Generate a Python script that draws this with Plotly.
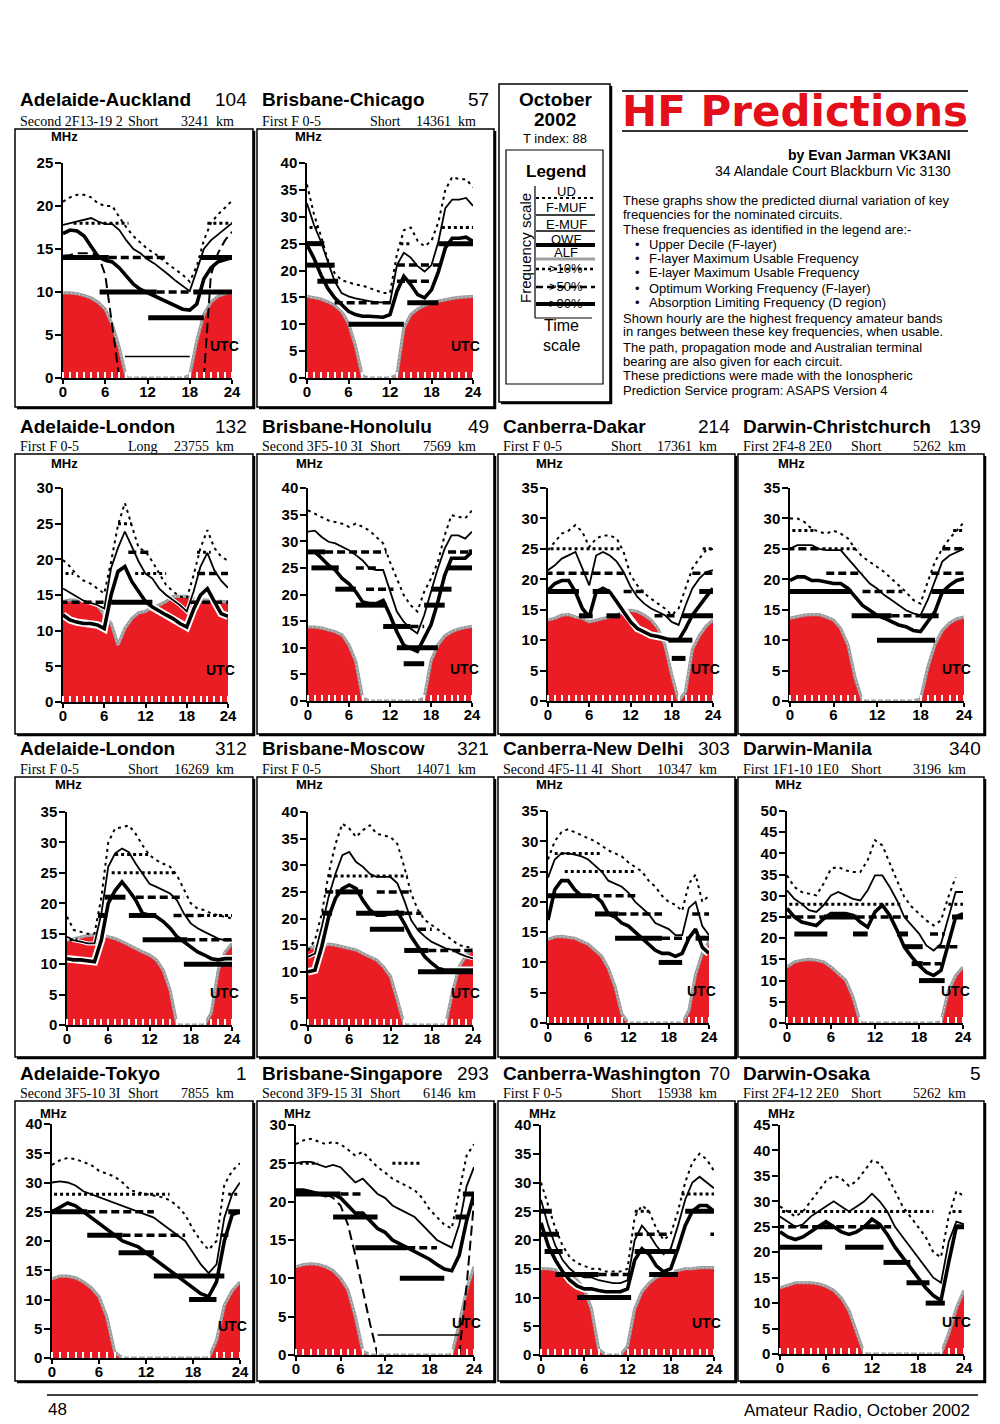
import plotly.graph_objects as go

HOURS = list(range(25))

# ---------------- data ----------------
# Adelaide-Auckland
A_UD = [20.5,21.0,21.3,21.3,21.0, 20.3,20.0,20.0,18.7,17.5, 16.5,15.7,15.0,14.5,13.8, 13.2,12.6,12.0,11.2,13.0, 16.0,18.0,19.0,19.8,20.6]
A_FMUF = [17.8,18.0,18.2,18.4,18.6, 18.2,17.9,17.9,17.2,16.0, 15.0,14.5,13.8,13.3,12.7, 12.0,11.3,10.7,10.1,12.5, 15.0,16.0,16.7,17.3,18.0]
A_OWF = [16.8,17.2,17.1,16.5,15.3, 14.1,13.7,13.5,12.8,11.8, 10.9,10.3,9.9,9.5,9.2, 8.8,8.4,8.0,7.9,8.6, 11.5,12.8,13.5,13.8,14.0]
A_EMUF = [14.2,14.3,14.5,14.5,14.5, 14.3,12.0,6.0,0.0,None, None,None,None,None,None, None,None,None,None,None, 0.0,12.0,14.5,16.0,17.0]
A_ALF = [9.9,9.9,9.8,9.6,9.3, 8.8,8.0,6.2,3.5,0, 0,0,0,0,0, 0,0,0,0.3,4.3, 7.4,8.8,9.5,9.8,9.9]
A_BF = [14, 14, 14, 18, 18, 10, 10, 10, 7, 2.5]
A_BS = [-0.5, 6.5, 19.5, 1.5, 20.5, 5.2, 13.3, 18.5, 12.1, 8.8]
A_BE = [6.5, 14.7, 24.5, 9.3, 24.5, 13.3, 18.0, 24.3, 20.0, 18.0]
A_BK = [90, 50, 90, 10, 10, 90, 50, 90, 90, 0]

# Brisbane-Chicago
B_UD = [36.0,30.5,26.5,22.0,19.5, 18.2,17.8,17.4,17.2,16.8, 16.3,15.8,15.8,23.0,27.5, 28.0,25.5,24.5,25.5,29.0, 35.0,37.4,37.0,37.0,35.5]
B_FMUF = [32.5,28.5,25.4,21.7,18.0, 15.8,15.2,14.8,14.5,14.3, 14.1,14.0,14.0,21.0,23.3, 22.4,20.8,19.8,21.0,25.4, 31.6,33.2,33.2,33.5,32.0]
B_OWF = [24.8,22.3,19.2,16.7,14.9, 13.6,12.4,11.8,11.5,11.5, 11.4,11.3,11.8,16.1,18.9, 17.4,15.5,14.9,16.4,19.8, 24.2,26.0,26.0,26.2,25.4]
B_ALF = [15.2,15.0,14.7,14.2,13.5, 12.4,10.2,6.0,0.3,0, 0,0,0,0.5,9.3, 11.8,12.8,13.5,14.0,14.3, 14.6,14.8,15.0,15.1,15.2]
B_BF = [28, 25, 21, 18, 14, 10, 25, 21, 18, 14, 28, 25]
B_BS = [-0.5, -0.5, 0, 1.5, 4, 6, 13.5, 13, 13, 14.5, 19.5, 19]
B_BE = [1.5, 2.5, 4, 4.5, 12.5, 14, 15, 19.5, 18, 19, 24.5, 24.5]
B_BK = [10, 90, 90, 90, 50, 90, 10, 50, 50, 90, 10, 90]

# Adelaide-London (long path)
C_UD = [19.9,19.0,17.8,17.0,16.6, 15.9,15.2,19.7,24.8,27.9, 24.8,21.6,21.1,19.7,18.0, 16.4,15.5,14.8,14.5,17.8, 21.6,24.1,21.6,20.4,19.8]
C_FMUF = [15.9,15.3,14.7,14.2,13.9, 13.6,13.1,18.8,21.6,23.9, 21.8,19.7,18.0,17.3,15.9, 15.0,14.3,13.6,12.7,15.5, 19.0,20.9,18.5,17.0,16.0]
C_OWF = [12.2,11.5,11.2,11.0,11.0, 10.8,10.3,15.0,18.3,19.0, 16.9,15.5,14.1,13.3,12.7, 12.2,11.7,11.0,10.5,13.0, 15.0,15.9,14.1,12.4,12.0]
C_ALF = [14.1,14.3,14.3,14.2,14.0, 13.6,12.2,11.0,8.0,10.3, 11.7,12.5,12.7,13.3,13.6, 14.1,14.8,14.8,14.8,14.5, 14.3,14.3,14.1,14.1,14.0]
C_BF = [14, 14, 14, 18, 18, 18, 21, 21, 25]
C_BS = [-0.5, 7, 18.5, -0.5, 10.5, 19.5, 9.5, 19.5, 8]
C_BE = [6.5, 13, 24.5, 1.5, 15, 24.5, 13, 21.5, 10]
C_BK = [50, 90, 50, 10, 10, 50, 50, 10, 10]

# Brisbane-Honolulu
D_UD = [35.8,35.2,34.6,33.9,33.6, 33.3,32.7,33.3,32.7,32.0, 30.8,29.6,26.1,23.0,19.9, 18.0,16.8,20.5,23.0,26.1, 31.1,34.9,34.6,34.3,35.8]
D_FMUF = [31.8,32.0,30.8,29.9,29.6, 28.9,28.3,27.4,26.4,24.9, 24.6,24.6,20.5,16.8,14.9, 13.6,12.7,16.1,20.5,24.9, 28.6,31.1,31.1,30.5,31.8]
D_OWF = [28.0,28.0,26.8,25.5,24.6, 23.0,22.0,20.5,18.6,18.3, 18.3,18.9,16.1,13.0,10.5, 9.9,9.3,11.8,14.3,18.6, 23.6,26.8,26.8,26.8,28.0]
D_ALF = [13.9,13.9,13.7,13.3,13.0, 12.4,10.5,7.4,0.5,0, 0,0,0,0,0, 0,0,0.5,7.5,10.5, 12.2,13.0,13.5,13.8,14.0]
D_BF = [28, 28, 28, 28, 25, 25, 25, 21, 21, 21, 18, 18, 14, 14, 10, 7]
D_BS = [-0.5, 2.5, 20.5, 23.5, 0.5, 7, 20.5, 4, 8.5, 18, 7, 17, 11, 15, 13, 14]
D_BE = [2.5, 11.5, 23.5, 24.5, 4.5, 10.5, 24, 7, 12.5, 21, 11.5, 20, 15, 17, 19, 17]
D_BK = [90, 50, 50, 90, 90, 50, 90, 90, 50, 90, 90, 90, 90, 50, 90, 90]

# Canberra-Dakar
E_UD = [24.8,26.1,27.5,28.0,28.9, 27.8,25.3,26.7,27.2,27.2, 26.7,24.5,20.7,19.0,17.7, 16.8,16.0,15.2,14.1,15.2, 18.5,21.8,23.4,24.8,25.0]
E_FMUF = [21.5,22.3,23.4,23.9,24.5, 21.8,19.0,23.9,24.5,23.9, 22.9,21.2,18.8,17.1,16.0, 15.2,14.7,14.1,13.0,12.5, 15.7,18.5,20.1,21.2,21.5]
E_OWF = [18.2,19.3,19.8,19.8,17.9, 15.2,13.8,17.9,18.5,17.9, 16.3,14.7,13.0,11.9,11.4, 10.8,10.6,10.3,10.0,10.0, 11.9,14.1,15.7,17.1,18.5]
E_ALF = [13.3,13.6,14.1,14.2,13.8, 13.6,13.0,13.3,13.5,13.8, 14.1,14.7,14.9,14.7,14.1, 13.3,11.9,9.2,4.3,0, 1.5,8.5,10.7,12.3,13.3]
E_BF = [25, 25, 21, 21, 18, 18, 18, 18, 14, 14, 14, 14, 10, 7]
E_BS = [-0.5, 22.5, -0.5, 21, -0.5, 6.5, 11, 22, 4.5, 8.5, 15.5, 19.5, 17.5, 18]
E_BE = [10.5, 24.5, 11, 24.5, 4.5, 9, 14.5, 24.5, 6.5, 10.5, 19, 24.5, 21, 20]
E_BK = [10, 10, 50, 50, 90, 90, 50, 90, 90, 90, 50, 90, 90, 90]

# Darwin-Christchurch
F_UD = [30.0,30.0,29.4,28.3,27.8, 27.5,28.0,27.5,26.7,25.0, 23.7,22.9,22.0,21.2,20.1, 19.0,17.9,16.6,16.0,19.6, 22.9,25.0,26.7,28.0,29.4]
F_FMUF = [25.0,25.6,25.6,25.6,25.0, 24.8,24.8,24.8,23.4,22.0, 20.7,19.3,18.5,17.4,16.6, 15.7,14.9,14.4,14.1,16.6, 19.6,22.9,23.9,24.5,25.0]
F_OWF = [19.8,20.4,20.4,19.8,19.8, 19.6,19.3,19.3,18.5,17.1, 15.7,14.9,14.1,13.6,13.0, 12.5,12.2,11.6,11.4,13.0, 14.7,17.9,19.0,19.8,20.1]
F_ALF = [13.6,13.9,14.1,14.2,14.2, 13.8,13.3,11.9,9.2,3.7, 0,0,0,0,0, 0,0,0,0.3,5.5, 9.3,11.6,12.8,13.5,13.8]
F_BF = [28, 28, 25, 25, 25, 21, 21, 18, 18, 18, 14, 14, 14, 10]
F_BS = [-0.5, 22.5, -0.5, 4.5, 21, 5, 19.5, -0.5, 10, 19.5, 8.5, 14, 18, 12]
F_BE = [3.5, 24.5, 4.5, 9.5, 24.5, 10, 24.5, 8.5, 15.5, 24.5, 14, 18, 20.5, 20]
F_BK = [10, 10, 50, 10, 50, 50, 50, 90, 50, 90, 90, 50, 90, 90]

# Adelaide-London (short path)
G_UD = [17.8,15.6,15.3,15.0,15.0, 21.0,30.0,32.3,32.5,32.8, 31.4,29.5,27.9,27.1,26.5, 26.0,24.6,22.4,20.0,19.1, 18.9,18.3,18.0,17.8,17.5]
G_FMUF = [14.5,13.9,13.7,13.4,13.4, 18.3,26.0,28.2,29.0,28.4, 26.5,24.9,23.2,22.7,22.1, 21.6,20.5,18.3,16.7,15.9, 15.3,14.8,14.2,13.9,13.9]
G_OWF = [10.9,10.7,10.7,10.5,10.4, 14.0,20.0,22.1,23.5,22.1, 20.5,18.3,18.0,17.8,17.0, 15.9,14.5,13.7,12.8,12.0, 11.5,10.9,10.7,10.9,10.9]
G_ALF = [13.9,14.2,14.5,14.7,14.8, 14.8,14.5,14.2,13.7,13.1, 12.6,12.0,11.5,10.7,9.0, 5.7,0,0,0,0, 0,2.0,9.0,12.0,13.4]
G_BF = [14, 28, 25, 21, 21, 18, 18, 18, 18, 14, 14, 10]
G_BS = [-0.5, 7, 6.5, 5.5, 10, 4.5, 9, 15.5, 19.5, 11, 17.5, 17]
G_BE = [1.5, 12, 16, 8.5, 17, 5.5, 13, 19.5, 24, 17.5, 24.5, 24.5]
G_BK = [10, 10, 10, 90, 50, 90, 90, 50, 10, 90, 50, 90]

# Brisbane-Moscow
H_UD = [14.0,15.9,20.9,28.4,34.0, 37.8,36.9,35.3,36.6,37.5, 35.9,35.6,35.3,34.0,29.7, 24.7,21.6,19.7,18.8,17.8, 16.9,15.9,15.0,14.7,14.4]
H_FMUF = [12.8,13.4,18.4,24.1,28.4, 31.9,32.5,30.6,29.7,28.4, 27.8,27.8,27.8,26.6,23.4, 19.7,17.8,16.6,15.6,15.0, 14.4,14.1,13.4,12.9,12.5]
H_OWF = [10.0,10.3,14.7,20.3,23.8, 25.6,26.3,25.6,23.4,21.6, 20.6,20.6,20.9,21.3,19.1, 16.6,14.7,12.8,11.6,10.6, 10.3,10.3,10.3,10.3,10.3]
H_ALF = [14.4,14.7,14.7,15.2,15.0, 14.7,14.4,14.1,13.4,12.8, 12.2,10.9,9.1,4.7,0, 0,0,0,0,0, 0,6.0,11.0,13.0,14.4]
H_BF = [28, 25, 25, 25, 21, 21, 21, 18, 18, 14, 14, 10]
H_BS = [3, 2.5, 4, 10, 2, 7, 14, 9, 16, 14, 17.5, 16]
H_BE = [14.5, 4, 8, 15, 3.5, 14, 16.5, 14, 18, 17.5, 24, 24.5]
H_BK = [10, 50, 90, 50, 90, 90, 50, 90, 50, 90, 50, 90]

# Canberra-New Delhi
I_UD = [27.0,30.0,31.5,32.0,31.5, 31.0,30.5,30.0,29.3,28.5, 28.0,27.5,26.5,25.8,25.0, 23.5,22.5,21.0,20.0,19.5, 18.5,23.0,24.5,20.0,21.0]
I_FMUF = [24.0,27.0,28.0,28.0,27.8, 27.5,27.0,26.0,25.0,23.5, 23.0,22.5,21.5,20.0,19.0, 18.0,16.5,16.0,15.5,14.5, 14.5,19.0,20.0,16.0,14.5]
I_OWF = [17.0,22.0,23.5,23.5,22.0, 21.0,21.0,21.0,20.0,18.0, 17.5,16.5,16.0,15.0,14.0, 13.0,12.0,11.5,11.5,11.0, 11.5,14.0,15.5,12.5,11.5]
I_ALF = [13.8,14.2,14.3,14.2,14.0, 13.5,13.0,12.0,11.0,9.0, 6.0,1.5,0,0,0, 0,0,0,0,0, 0,2.0,8.0,11.5,13.5]
I_BF = [28, 25, 21, 21, 18, 18, 14, 14, 10, 14, 18]
I_BS = [1, 2.5, -0.5, 6.5, 7, 10.5, 10, 17, 16.5, 22, 21.5]
I_BE = [8, 13, 6.5, 13, 10.5, 17, 17, 21, 20, 24.5, 24]
I_BK = [10, 10, 90, 50, 90, 50, 90, 50, 90, 90, 50]

# Darwin-Manila
J_UD = [34.8,32.1,30.9,30.5,30.1, 32.9,36.4,36.8,36.0,35.6, 35.6,38.4,43.1,41.9,37.6, 33.6,29.7,27.4,25.8,24.2, 23.0,24.2,29.7,34.4,None]
J_FMUF = [31.3,29.3,28.1,26.6,26.2, 27.8,30.1,30.9,30.1,29.3, 28.9,31.3,34.8,34.8,32.1, 28.9,25.0,23.0,21.1,18.3, 17.1,18.7,25.0,30.9,30.9]
J_OWF = [27.0,25.0,23.8,23.4,23.0, 24.6,25.8,25.8,25.8,25.4, 23.8,22.6,26.2,27.8,25.4, 21.9,17.9,15.6,13.6,12.0, 11.2,12.4,18.7,25.0,25.8]
J_ALF = [13.2,14.4,14.8,15.0,14.8, 14.4,13.2,11.6,10.1,6.1, 0,0,0,0,0, 0,0,0,0,0, 0,0.2,7.5,11.2,13.2]
J_BF = [28, 28, 25, 25, 25, 25, 21, 21, 21, 21, 18, 18, 14, 14, 10]
J_BS = [-0.5, 22, -0.5, 5, 9.5, 22.5, 1, 9, 15, 19.5, 16, 20.5, 17, 18.5, 18]
J_BE = [15.5, 24.5, 5, 9.5, 16.5, 24.5, 5.5, 11, 16.5, 21.5, 18.5, 23.5, 18.5, 21, 21.5]
J_BK = [10, 10, 50, 90, 50, 90, 90, 90, 90, 50, 90, 50, 90, 50, 90]

# Adelaide-Tokyo
K_UD = [33.0,33.8,34.2,34.0,33.5, 33.0,32.0,31.5,31.0,30.0, 28.7,28.3,28.0,27.8,27.5, 27.0,26.0,24.5,22.0,20.0, 18.5,20.0,29.6,32.0,33.3]
K_FMUF = [30.0,30.2,30.0,29.5,28.5, 28.0,27.5,27.0,26.5,26.0, 25.5,25.0,24.5,24.0,23.0, 22.0,21.0,20.0,18.0,16.0, 14.5,16.0,24.0,28.0,30.0]
K_OWF = [25.0,25.8,26.5,26.0,25.0, 24.0,23.0,22.0,21.0,20.0, 19.5,19.0,18.0,17.0,16.0, 15.0,14.0,13.0,12.0,11.0, 10.5,13.0,20.0,24.5,25.0]
K_ALF = [13.5,14.0,14.0,13.7,13.0, 12.0,10.5,7.0,1.0,0, 0,0,0,0,0, 0,0,0,0,0, 0,3.0,9.0,11.5,13.0]
K_BF = [28, 25, 25, 21, 21, 18, 14, 10, 25, 28, 21]
K_BS = [-0.5, -0.5, 4.5, 4.5, 9, 8.5, 13, 17.5, 22.5, 22.5, 21.5]
K_BE = [15, 4.5, 13, 9, 17, 13, 22, 21, 24.5, 24.5, 23]
K_BK = [10, 90, 50, 90, 50, 90, 90, 90, 90, 10, 50]

# Brisbane-Singapore
L_UD = [27.5,28.0,28.2,27.8,27.5, 27.8,27.5,26.8,26.0,26.5, 25.5,24.5,23.8,23.0,22.5, 22.0,21.5,20.5,19.0,18.0, 17.0,16.5,21.5,26.0,27.5]
L_FMUF = [25.0,25.2,25.2,24.8,24.5, 24.8,24.5,23.5,22.5,23.0, 22.0,21.0,20.5,19.5,19.0, 18.5,18.0,17.0,16.0,15.0, 14.5,14.0,17.0,22.0,24.5]
L_OWF = [21.5,21.5,21.3,21.0,20.8, 21.0,20.5,19.5,18.5,18.5, 17.5,16.5,16.0,15.0,14.5, 14.0,13.5,13.0,12.5,11.8, 11.2,11.0,13.0,17.5,21.0]
L_EMUF = [21.0,21.0,21.0,21.0,21.0, 20.5,19.5,17.0,13.0,8.5, 4.0,0.0,None,None,None, None,None,None,None,None, None,None,0.0,9.0,20.0]
L_ALF = [11.5,11.8,11.9,11.8,11.5, 11.0,10.0,8.5,5.0,0.5, 0,0,0,0,0, 0,0,0,0,0, 0,0,4.0,8.5,11.5]
L_BF = [21, 25, 21, 18, 14, 14, 10, 21, 18, 25, 2.6]
L_BS = [-0.5, 0.5, 6, 5, 8, 15, 14, 22.5, 21.5, 13, 11]
L_BE = [6, 3, 9, 11, 15, 19, 20, 24.5, 23, 17, 22]
L_BK = [90, 10, 50, 90, 90, 50, 90, 90, 90, 10, 0]

# Canberra-Washington
M_UD = [30.0,26.0,22.0,19.0,17.0, 16.0,15.5,15.0,15.0,14.5, 14.5,14.5,15.0,24.0,26.0, 25.0,22.0,20.0,21.0,25.0, 30.0,33.5,35.0,34.0,32.0]
M_FMUF = [27.0,22.5,19.0,16.5,15.0, 14.0,13.5,13.5,13.0,12.8, 12.5,12.5,13.0,20.0,22.5, 21.0,19.0,17.5,18.5,22.5, 27.0,30.0,31.0,30.0,29.0]
M_OWF = [23.0,19.0,16.5,14.5,13.0, 12.0,11.5,11.5,11.2,11.0, 11.0,11.0,11.5,16.5,18.5, 17.5,15.5,14.5,15.0,18.5, 22.5,25.0,26.0,26.0,25.0]
M_ALF = [15.0,15.0,14.8,14.5,14.0, 13.0,11.5,8.0,1.0,0, 0,0,1.5,8.0,11.0, 12.5,13.5,14.0,14.5,14.7, 15.0,15.0,15.2,15.2,15.2]
M_BF = [25, 21, 18, 14, 14, 10, 25, 21, 18, 14, 28, 25, 21]
M_BS = [-0.5, -0.5, 0.5, 2, 8, 5, 13, 13, 13, 15, 19.5, 20, 23.5]
M_BE = [1.5, 2.5, 3, 8, 13, 12.5, 15, 18, 19, 19, 24.5, 24.5, 24.5]
M_BK = [90, 90, 90, 90, 50, 90, 10, 50, 90, 90, 10, 90, 50]

# Darwin-Osaka
N_UD = [29.0,28.0,27.0,28.0,30.0, 32.0,34.0,35.0,34.5,33.0, 34.0,36.0,38.0,37.5,35.0, 32.0,29.0,27.0,25.0,23.0, 20.0,19.0,27.0,32.0,31.0]
N_FMUF = [27.0,26.0,25.0,25.5,27.0, 28.0,29.0,30.0,29.0,28.0, 29.0,30.0,31.5,30.0,28.0, 25.0,23.0,21.0,19.0,17.0, 15.0,14.0,22.0,26.0,25.5]
N_OWF = [24.0,23.0,22.5,23.0,24.0, 25.0,26.0,25.0,24.0,23.5, 24.0,25.0,26.5,25.5,23.5, 21.0,19.0,17.0,15.0,13.0, 11.5,10.5,18.0,25.0,25.0]
N_ALF = [13.0,13.5,14.0,14.0,14.0, 13.8,13.3,12.5,11.0,8.5, 4.0,0,0,0,0, 0,0,0,0,0, 0,0,4.0,9.0,12.5]
N_BF = [28, 25, 25, 25, 21, 21, 18, 14, 10, 25, 28]
N_BS = [-0.5, -0.5, 5, 11, 0, 8.5, 13.5, 16.5, 19, 23, 22.5]
N_BE = [20, 14.5, 7, 13, 5.5, 13.5, 17, 19.5, 21.5, 24.5, 24.5]
N_BK = [10, 50, 90, 90, 90, 90, 90, 90, 90, 90, 10]

# panel texts
NAMES = ["Adelaide-Auckland", "Brisbane-Chicago", "Adelaide-London", "Brisbane-Honolulu",
         "Canberra-Dakar", "Darwin-Christchurch", "Adelaide-London", "Brisbane-Moscow",
         "Canberra-New Delhi", "Darwin-Manila", "Adelaide-Tokyo", "Brisbane-Singapore",
         "Canberra-Washington", "Darwin-Osaka"]
BEARINGS = ["104", "57", "132", "49", "214", "139", "312", "321", "303", "340", "1", "293", "70", "5"]
MODES = ["Second 2F13-19 2", "First F 0-5", "First F 0-5", "Second 3F5-10 3I", "First F 0-5",
         "First 2F4-8 2E0", "First F 0-5", "First F 0-5", "Second 4F5-11 4I", "First 1F1-10 1E0",
         "Second 3F5-10 3I", "Second 3F9-15 3I", "First F 0-5", "First 2F4-12 2E0"]
PATHS = ["Short", "Short", "Long", "Short", "Short", "Short", "Short", "Short", "Short", "Short",
         "Short", "Short", "Short", "Short"]
KMS = ["3241", "14361", "23755", "7569", "17361", "5262", "16269", "14071", "10347", "3196",
       "7855", "6146", "15938", "5262"]
YMAX = [25, 40, 30, 40, 35, 35, 35, 40, 35, 50, 40, 30, 40, 45]
X_TICKS = [0, 6, 12, 18, 24]

PANEL_DATA = [
    (A_UD, A_FMUF, A_OWF, A_ALF, A_EMUF, A_BF, A_BS, A_BE, A_BK),
    (B_UD, B_FMUF, B_OWF, B_ALF, None, B_BF, B_BS, B_BE, B_BK),
    (C_UD, C_FMUF, C_OWF, C_ALF, None, C_BF, C_BS, C_BE, C_BK),
    (D_UD, D_FMUF, D_OWF, D_ALF, None, D_BF, D_BS, D_BE, D_BK),
    (E_UD, E_FMUF, E_OWF, E_ALF, None, E_BF, E_BS, E_BE, E_BK),
    (F_UD, F_FMUF, F_OWF, F_ALF, None, F_BF, F_BS, F_BE, F_BK),
    (G_UD, G_FMUF, G_OWF, G_ALF, None, G_BF, G_BS, G_BE, G_BK),
    (H_UD, H_FMUF, H_OWF, H_ALF, None, H_BF, H_BS, H_BE, H_BK),
    (I_UD, I_FMUF, I_OWF, I_ALF, None, I_BF, I_BS, I_BE, I_BK),
    (J_UD, J_FMUF, J_OWF, J_ALF, None, J_BF, J_BS, J_BE, J_BK),
    (K_UD, K_FMUF, K_OWF, K_ALF, None, K_BF, K_BS, K_BE, K_BK),
    (L_UD, L_FMUF, L_OWF, L_ALF, L_EMUF, L_BF, L_BS, L_BE, L_BK),
    (M_UD, M_FMUF, M_OWF, M_ALF, None, M_BF, M_BS, M_BE, M_BK),
    (N_UD, N_FMUF, N_OWF, N_ALF, None, N_BF, N_BS, N_BE, N_BK),
]

# ---------------- page geometry (pixels on the page) ----------------
W, H = 1000, 1424
PAGE_OFF = 8  # default body margin of the html page
def fx(p): return (p - PAGE_OFF) / W
def fy(p): return 1 - (p - PAGE_OFF) / H

PLOT_PX = [(63, 232, 163, 378), (307, 473, 163, 378),
           (63, 228, 488, 702), (308, 472, 488, 701), (548, 713, 488, 701), (790, 964, 488, 701),
           (67, 232, 812, 1025), (308, 473, 812, 1025), (548, 709, 811, 1023), (787, 963, 811, 1023),
           (52, 240, 1124, 1358), (296, 474, 1125, 1355), (541, 714, 1125, 1355), (780, 964, 1125, 1354)]
CELL = [(0, 0), (1, 0), (0, 1), (1, 1), (2, 1), (3, 1), (0, 2), (1, 2), (2, 2), (3, 2),
        (0, 3), (1, 3), (2, 3), (3, 3)]
COL_X = [(15, 253), (257, 494), (498, 735), (738, 984)]
ROW_Y = [(129, 407), (454, 734), (777, 1057), (1101, 1381)]
TITLE_Y = [100, 427, 749, 1073]
SUB_Y = [121, 446, 769, 1093]
MHZ_Y = [137, 463, 784, 1113]
TITLE_L = [19, 261, 502, 742]
NUM_R = [248, 490, 731, 982]
KM_R = [235, 477, 718, 967]

RED = "#ea1c24"
ARIAL = "Liberation Sans"
TIMES = "Liberation Serif"

fig = go.Figure()
annotations = []
shapes = []

def txt(x, y, s, size=13, family=ARIAL, bold=False, xa="center", ya="middle", color="black", angle=0):
    annotations.append(dict(x=fx(x), y=fy(y), xref="paper", yref="paper", text=s, showarrow=False,
                            xanchor=xa, yanchor=ya, textangle=angle, borderpad=0,
                            font=dict(size=size, family=family, color=color,
                                      weight="bold" if bold else "normal")))

def hline(x0, x1, y, width=1.5, color="black", dash="solid"):
    shapes.append(dict(type="line", xref="paper", yref="paper", x0=fx(x0), x1=fx(x1), y0=fy(y), y1=fy(y),
                       line=dict(color=color, width=width, dash=dash)))

def vline(x, y0, y1, width=1.5, color="black"):
    shapes.append(dict(type="line", xref="paper", yref="paper", x0=fx(x), x1=fx(x), y0=fy(y0), y1=fy(y1),
                       line=dict(color=color, width=width)))

def box(x0, y0, x1, y1, width=1.5, shadow=True):
    shapes.append(dict(type="rect", xref="paper", yref="paper", x0=fx(x0), x1=fx(x1), y0=fy(y1), y1=fy(y0),
                       line=dict(color="black", width=width)))
    if shadow:
        vline(x1 + 1, y0 + 2, y1 + 2, width=2.5)
        hline(x0 + 2, x1 + 2, y1 + 1, width=2.5)

BAND_STYLE = {
    10: dict(width=3, dash="3px,3px"),
    50: dict(width=3.5, dash="8px,4px"),
    90: dict(width=5, dash="solid"),
    0: dict(width=1.5, dash="solid"),
}

layout_axes = {}
for i, (ud, fmuf, owf, alf, emuf, bf, bs, be, bk) in enumerate(PANEL_DATA):
    n = "" if i == 0 else str(i + 1)
    xa, ya = "x" + n, "y" + n
    x0, x24, ytop, ybot = PLOT_PX[i]
    col, row = CELL[i]

    def add(y, **kw):
        fig.add_trace(go.Scatter(x=HOURS[:len(y)], y=y, xaxis=xa, yaxis=ya, mode="lines",
                                 hoverinfo="skip", showlegend=False, **kw))

    # absorption limiting frequency: red area with grey edge
    add(alf, fill="tozeroy", fillcolor=RED, line=dict(width=0, color=RED))
    add(alf, line=dict(width=3.2, color="#9c9c9c"))
    add(alf, line=dict(width=1, color="#e4e4e4", dash="1px,3px"))
    # white halos
    add(owf, line=dict(width=7.5, color="white"))
    add(fmuf, line=dict(width=4, color="white"))
    # band bars
    for kind in (0, 10, 50, 90):
        xs, ys = [], []
        for f, s, e, k in zip(bf, bs, be, bk):
            if k == kind:
                xs += [s, e, None]
                ys += [f, f, None]
        if xs:
            st = BAND_STYLE[kind]
            fig.add_trace(go.Scatter(x=xs, y=ys, xaxis=xa, yaxis=ya, mode="lines", hoverinfo="skip",
                                     showlegend=False,
                                     line=dict(color="black", width=st["width"], dash=st["dash"])))
    add(ud, line=dict(width=2, color="black", dash="3px,4px"))
    add(fmuf, line=dict(width=1.8, color="black"))
    if emuf is not None:
        add(emuf, line=dict(width=2, color="black", dash="10px,5px"))
    add(owf, line=dict(width=3.6, color="black"))

    tickfont = dict(family=ARIAL, size=15, color="black", weight="bold")
    layout_axes["xaxis" + n] = dict(
        domain=[fx(x0), fx(x24)], range=[0, 24], anchor=ya, showline=True, linecolor="black",
        linewidth=1.5, ticks="outside", ticklen=4, tickwidth=1.5, tickcolor="black",
        tickmode="array", tickvals=X_TICKS, tickfont=tickfont, showgrid=False, zeroline=False,
        automargin=False, ticklabelstandoff=-5,
        minor=dict(tickmode="linear", tick0=0, dtick=1, ticks="inside", ticklen=6, tickwidth=1.5,
                   tickcolor="white", showgrid=False),
        fixedrange=True)
    layout_axes["yaxis" + n] = dict(
        domain=[fy(ybot), fy(ytop)], range=[0, YMAX[i]], anchor=xa, showline=True, linecolor="black",
        linewidth=1.5, ticks="outside", ticklen=6, tickwidth=1.5, tickcolor="black", dtick=5,
        tickfont=tickfont, showgrid=False, zeroline=False, fixedrange=True, automargin=False,
        ticklabelstandoff=-1)

    # panel frame and texts
    bx0, bx1 = COL_X[col]
    by0, by1 = ROW_Y[row]
    box(bx0, by0, bx1, by1)
    txt(TITLE_L[col], TITLE_Y[row], NAMES[i], size=19, bold=True, xa="left")
    txt(NUM_R[col], TITLE_Y[row], BEARINGS[i], size=19, family="Liberation Sans Narrow, Liberation Sans", xa="right")
    txt(TITLE_L[col], SUB_Y[row], MODES[i], size=14, family=TIMES, xa="left")
    txt(TITLE_L[col] + 108, SUB_Y[row], PATHS[i], size=14, family=TIMES, xa="left")
    txt(KM_R[col], SUB_Y[row], KMS[i] + "  km", size=14, family=TIMES, xa="right")
    txt(x0 + 1, MHZ_Y[row], "MHz", size=13, bold=True)
    txt(x24 - 8, ybot - 32, "UTC", size=14, bold=True)

# ---------------- legend / date box ----------------
box(499, 84, 610, 402)
txt(555, 99, "October", size=19, bold=True)
txt(555, 119, "2002", size=19, bold=True)
txt(555, 139, "T index: 88", size=13)
box(506, 150, 603, 384, width=1.2, shadow=False)
txt(556, 171, "Legend", size=17, bold=True)
txt(526, 248, "Frequency scale", size=15, angle=-90)
vline(535, 186, 318, width=1.2)
hline(535, 592, 318, width=1.2)
LEG_ITEMS = [("UD", 191, 198, 2, "3px,3px", "black"),
             ("F-MUF", 207, 215, 1.5, "solid", "black"),
             ("E-MUF", 224, 231, 1.5, "solid", "black"),
             ("OWF", 239, 245, 4, "solid", "black"),
             ("ALF", 252, 259, 3, "solid", "#a0a0a0"),
             (">10%", 268, 269, 2.5, "3px,3px", "black"),
             (">50%", 286, 287, 2.5, "7px,4px", "black"),
             (">90%", 303, 304, 4, "solid", "black")]
for lab, ty, ly, lw, dash, colr in LEG_ITEMS:
    hline(536, 595, ly, width=lw, dash=dash, color=colr)
    txt(566, ty, lab, size=13)
txt(561, 325, "Time", size=16)
txt(561, 345, "scale", size=16)

# ---------------- header text block ----------------
hline(622, 968, 91, width=2, color="#333333")
hline(622, 968, 131, width=2, color="#333333")
txt(795, 111, "HF Predictions", size=42, family="DejaVu Sans", bold=True, color="#e3101a")
txt(952, 155, "by Evan Jarman VK3ANI", size=14, bold=True, xa="right")
txt(952, 171, "34 Alandale Court Blackburn Vic 3130", size=14, xa="right")
PARA = [("These graphs show the predicted diurnal variation of key", 200, False),
        ("frequencies for the nominated circuits.", 214, False),
        ("These frequencies as identified in the legend are:-", 229, False),
        ("Upper Decile (F-layer)", 244, True),
        ("F-layer Maximum Usable Frequency", 258, True),
        ("E-layer Maximum Usable Frequency", 273, True),
        ("Optimum Working Frequency (F-layer)", 288, True),
        ("Absorption Limiting Frequency (D region)", 302, True),
        ("Shown hourly are the highest frequency amateur bands", 318, False),
        ("in ranges between these key frequencies, when usable.", 332, False),
        ("The path, propagation mode and Australian terminal", 347, False),
        ("bearing are also given for each circuit.", 362, False),
        ("These predictions were made with the Ionospheric", 376, False),
        ("Prediction Service program: ASAPS Version 4", 390, False)]
for s, y, bullet in PARA:
    if bullet:
        txt(634, y, "\u2022", size=13, xa="left")
        txt(648, y, s, size=13, xa="left")
    else:
        txt(622, y, s, size=13, xa="left")

# ---------------- footer ----------------
hline(47, 978, 1395, width=1.5)
txt(47, 1409, "48", size=17, xa="left")
txt(971, 1410, "Amateur Radio, October 2002", size=17, xa="right")

fig.update_layout(width=W, height=H, autosize=False,
                  margin=dict(l=0, r=0, t=0, b=0, pad=0, autoexpand=False),
                  paper_bgcolor="white", plot_bgcolor="rgba(0,0,0,0)", showlegend=False,
                  annotations=annotations, shapes=shapes, **layout_axes)
fig.write_html("out.html")
